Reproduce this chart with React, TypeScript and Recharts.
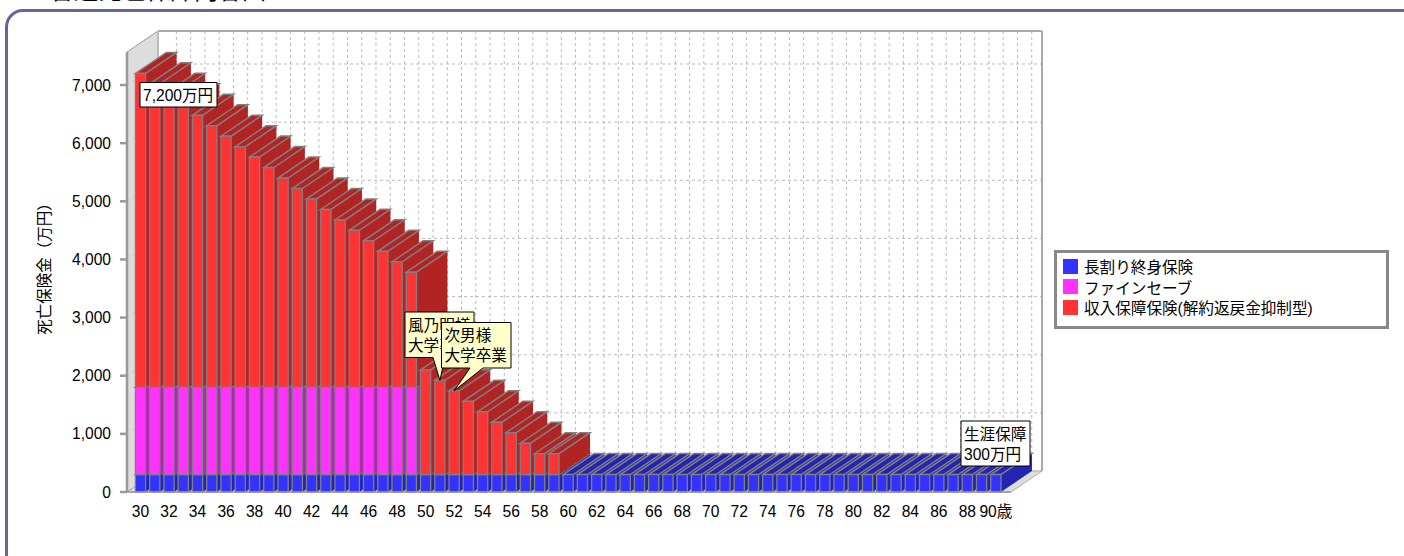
import React from "react";
import { BarChart, Bar, XAxis, YAxis, CartesianGrid, Legend, ReferenceDot, Customized } from "recharts";

const FONT = '"Liberation Sans", "Noto Sans CJK JP", sans-serif';
const FS = 15.6;

const titleText = "普通死亡保障内容図";
const yAxisTitle = "死亡保険金（万円）";
const yearSuffix = "歳";
const lastAge = 90;

const ages = [30,31,32,33,34,35,36,37,38,39,40,41,42,43,44,45,46,47,48,49,50,51,52,53,54,55,56,57,58,59,60,61,62,63,64,65,66,67,68,69,70,71,72,73,74,75,76,77,78,79,80,81,82,83,84,85,86,87,88,89,90];
const tickAges = [30,32,34,36,38,40,42,44,46,48,50,52,54,56,58,60,62,64,66,68,70,72,74,76,78,80,82,84,86,88,90];
const yTicks = [0,1000,2000,3000,4000,5000,6000,7000];

const wholeLife = [300,300,300,300,300,300,300,300,300,300,300,300,300,300,300,300,300,300,300,300,300,300,300,300,300,300,300,300,300,300,300,300,300,300,300,300,300,300,300,300,300,300,300,300,300,300,300,300,300,300,300,300,300,300,300,300,300,300,300,300,300];
const fineSave = [1500,1500,1500,1500,1500,1500,1500,1500,1500,1500,1500,1500,1500,1500,1500,1500,1500,1500,1500,1500,0,0,0,0,0,0,0,0,0,0,0,0,0,0,0,0,0,0,0,0,0,0,0,0,0,0,0,0,0,0,0,0,0,0,0,0,0,0,0,0,0];
const income = [5400,5220,5040,4860,4680,4500,4320,4140,3960,3780,3600,3420,3240,3060,2880,2700,2520,2340,2160,1980,1800,1620,1440,1260,1080,900,720,540,360,360,0,0,0,0,0,0,0,0,0,0,0,0,0,0,0,0,0,0,0,0,0,0,0,0,0,0,0,0,0,0,0];

const seriesNames = ["長割り終身保険", "ファインセーブ", "収入保障保険(解約返戻金抑制型)"];
const seriesColors = ["#3333ff", "#ff33ff", "#ff3333"];
const seriesDark = ["#2424b2", "#b224b2", "#b22424"];

const rows = ages.map((age, i) => ({ age, a: wholeLife[i], b: fineSave[i], c: income[i] }));

const notes = [
  { age: 51, value: 1920, lines: ["風乃明様", "大学卒業"], fill: "#ffffcc", box: [405, 312, 69, 45.5], base: [433, 445] },
  { age: 52, value: 1740, lines: ["次男様", "大学卒業"], fill: "#ffffcc", box: [441.5, 322.5, 69.5, 45.5], base: [470, 483] },
  { age: 30, value: 7200, lines: ["7,200万円"], fill: "#ffffff", box: [140, 82.5, 77, 24.5], base: null },
  { age: 90, value: 300, lines: ["生涯保障", "300万円"], fill: "#ffffff", box: [961, 421, 69, 45], base: null },
];

const DX = 31;
const DY = 21;
const LEFT = 127;
const RIGHT = 1011;
const TOP = 52;
const BOTTOM = 492;
const PAD_L = 6.4;
const PAD_R = 8;
const Y_MAX = 7568;
const GRAY = "#808080";
const yPos = (v: number) => BOTTOM - (v * (BOTTOM - TOP)) / Y_MAX;
const band = (RIGHT - LEFT - PAD_L - PAD_R) / ages.length;

const Bar3D = (dark: string) => (props: any) => {
  const { x, y, width: w, height: h, fill } = props;
  if (!h || h <= 0) return null;
  return (
    <g>
      <polygon points={`${x + w},${y} ${x + w + DX},${y - DY} ${x + w + DX},${y + h - DY} ${x + w},${y + h}`} fill={dark} />
      <polygon points={`${x},${y} ${x + w},${y} ${x + w + DX},${y - DY} ${x + DX},${y - DY}`} fill={dark} stroke={GRAY} strokeWidth={1.5} />
      <rect x={x} y={y} width={w} height={h} fill={fill} stroke={GRAY} strokeWidth={1.3} />
    </g>
  );
};

const Walls = () => (
  <g>
    <polygon points={`${LEFT},${BOTTOM} ${LEFT + DX},${BOTTOM - DY} ${RIGHT + DX},${BOTTOM - DY} ${RIGHT},${BOTTOM}`} fill="#dddddd" stroke="#aaaaaa" />
    <polygon points={`${LEFT},${TOP} ${LEFT + DX},${TOP - DY} ${LEFT + DX},${BOTTOM - DY} ${LEFT},${BOTTOM}`} fill="#dddddd" stroke="#999999" />
    {yTicks.map((v) => (
      <line key={v} x1={LEFT} y1={yPos(v)} x2={LEFT + DX} y2={yPos(v) - DY} stroke="#cccccc" strokeDasharray="3 3" />
    ))}
    <line x1={LEFT + DX} y1={TOP - DY} x2={RIGHT + DX} y2={TOP - DY} stroke="#aaaaaa" strokeWidth={2} />
    <line x1={RIGHT + DX} y1={TOP - DY} x2={RIGHT + DX} y2={BOTTOM - DY} stroke="#aaaaaa" strokeWidth={2} />
    <line x1={LEFT + DX} y1={TOP - DY} x2={LEFT + DX} y2={BOTTOM - DY} stroke="#bbbbbb" strokeWidth={1.5} />
  </g>
);

const Note = (note: (typeof notes)[number]) => (props: any) => {
  const { cx, cy } = props;
  const [bx, by, bw, bh] = note.box;
  let d = `M${bx},${by} H${bx + bw} V${by + bh} `;
  if (note.base) d += `H${note.base[1]} L${cx},${cy} L${note.base[0]},${by + bh} `;
  d += `H${bx} Z`;
  return (
    <g>
      <path d={d} fill={note.fill} stroke="#000" strokeWidth={1} />
      {note.lines.map((t, i) => (
        <text key={i} x={bx + 3} y={by + 18.5 + i * 20} fontSize={FS} fontFamily={FONT} fill="#000">{t}</text>
      ))}
    </g>
  );
};

const LegendBox = ({ payload }: any) => {
  const items = [...(payload || [])].sort((p: any, q: any) => seriesNames.indexOf(p.value) - seriesNames.indexOf(q.value));
  return (
    <div style={{ boxSizing: "border-box", width: 335, height: 79, border: "3px solid #888888", background: "#fff", padding: "3px 0 0 6px", fontFamily: FONT, fontSize: FS, color: "#000" }}>
      {items.map((p: any) => (
        <div key={p.value} style={{ display: "flex", alignItems: "center", height: 20.5, whiteSpace: "nowrap" }}>
          <span style={{ display: "inline-block", width: 15, height: 15, background: p.color, marginRight: 6 }} />
          <span>{p.value}</span>
        </div>
      ))}
    </div>
  );
};

const xTickFormat = (v: number) => (v === lastAge ? `${v}${yearSuffix}` : `${v}`);

export default function App() {
  return (
    <div style={{ position: "absolute", left: 0, top: 0, width: 1404, height: 556, overflow: "hidden", background: "#fff" }}>
      <div style={{ position: "absolute", left: 50, top: -25, fontFamily: FONT, fontSize: 24, lineHeight: "32px", whiteSpace: "nowrap", color: "#000" }}>{titleText}</div>
      <div style={{ position: "absolute", left: 5, top: 9, width: 1415, height: 564, boxSizing: "border-box", border: "3.5px solid #666699", borderRadius: 18 }} />
      <div style={{ position: "absolute", left: 0, top: 0 }}>
        <BarChart width={1404} height={556} data={rows} margin={{ top: TOP, right: 1404 - RIGHT, bottom: 28, left: 0 }} barSize={10.2}>
          <CartesianGrid
            stroke="#bbbbbb"
            strokeDasharray="3 3"
            x={LEFT + DX}
            y={TOP - DY}
            width={RIGHT - LEFT}
            height={BOTTOM - TOP}
            horizontalPoints={yTicks.map((v) => yPos(v) - DY)}
            verticalPoints={ages.map((_, i) => LEFT + PAD_L + i * band + 43)}
          />
          <Customized component={Walls} />
          <XAxis
            dataKey="age"
            ticks={tickAges}
            interval={0}
            height={36}
            padding={{ left: PAD_L, right: PAD_R }}
            tickLine={false}
            tickMargin={8}
            tickFormatter={xTickFormat}
            tick={{ fill: "#000", fontSize: FS, fontFamily: FONT }}
            axisLine={{ stroke: "#999999", strokeWidth: 1.5 }}
          />
          <YAxis
            width={LEFT}
            domain={[0, Y_MAX]}
            ticks={yTicks}
            interval={0}
            tickSize={7}
            tickMargin={9}
            tickFormatter={(v: number) => v.toLocaleString("en-US")}
            tick={{ fill: "#000", fontSize: FS, fontFamily: FONT }}
            tickLine={{ stroke: "#999999", strokeWidth: 2.5 }}
            axisLine={{ stroke: "#999999", strokeWidth: 2.5 }}
            label={{ value: yAxisTitle, angle: -90, position: "insideLeft", offset: 44, dy: -7, style: { fontSize: 15.5, fontFamily: FONT, fill: "#000", textAnchor: "middle" } }}
          />
          <Legend
            layout="vertical"
            align="center"
            verticalAlign="middle"
            itemSorter={null}
            content={<LegendBox />}
            wrapperStyle={{ left: 1054, top: 250, width: 335, height: 79 }}
          />
          <Bar dataKey="a" name={seriesNames[0]} stackId="s" fill={seriesColors[0]} isAnimationActive={false} shape={Bar3D(seriesDark[0])} />
          <Bar dataKey="b" name={seriesNames[1]} stackId="s" fill={seriesColors[1]} isAnimationActive={false} shape={Bar3D(seriesDark[1])} />
          <Bar dataKey="c" name={seriesNames[2]} stackId="s" fill={seriesColors[2]} isAnimationActive={false} shape={Bar3D(seriesDark[2])} />
          {notes.map((n) => (
            <ReferenceDot key={n.lines.join("")} x={n.age} y={n.value} shape={Note(n)} />
          ))}
        </BarChart>
      </div>
    </div>
  );
}
